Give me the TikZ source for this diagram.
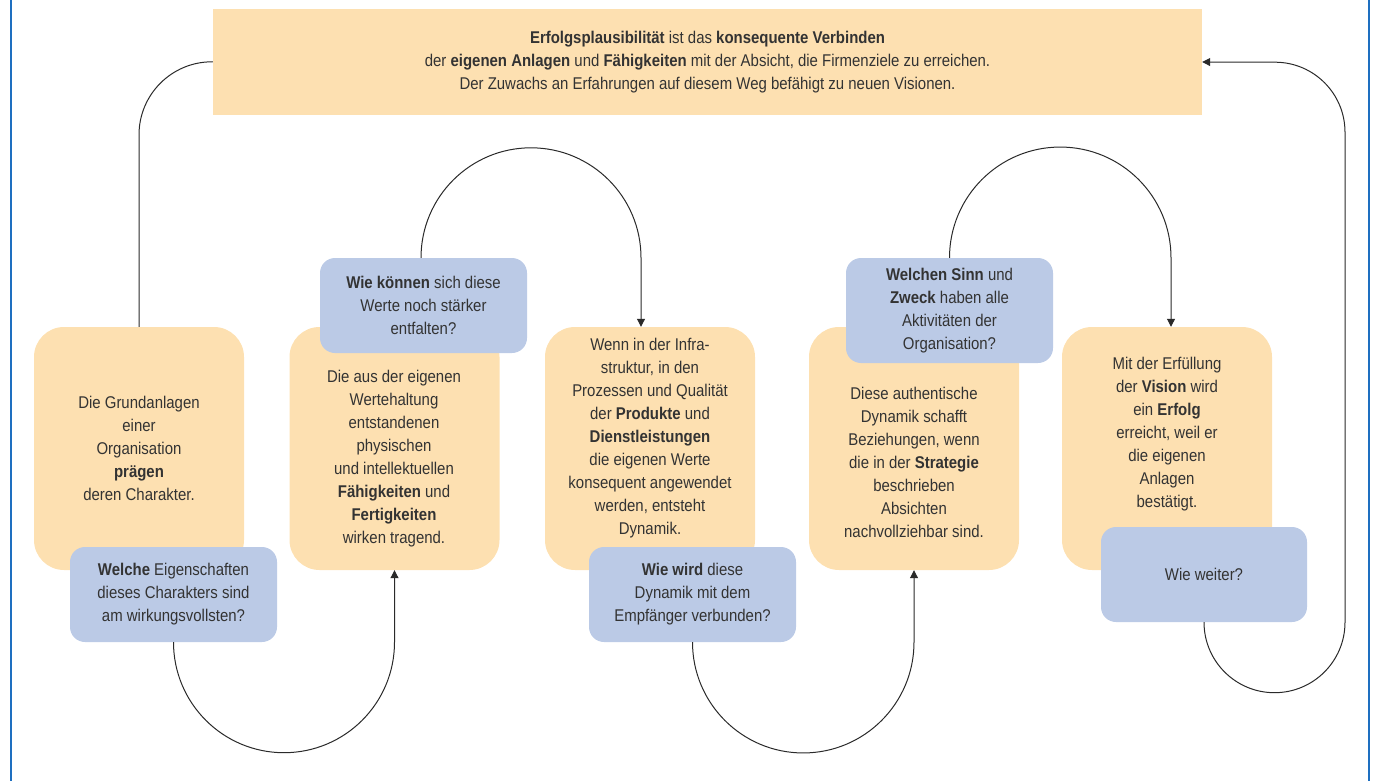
\documentclass[tikz,border=0pt]{standalone}
\usepackage{fontspec}
\setmainfont{Liberation Sans}[FakeStretch=0.88]
\usetikzlibrary{arrows.meta,calc}
\definecolor{obg}{HTML}{FDE0B1}
\definecolor{bbg}{HTML}{BBCAE6}
\definecolor{txtc}{HTML}{333333}
\definecolor{linec}{HTML}{2A2A2A}
\definecolor{framec}{HTML}{1E6FC0}
\tikzset{
  txt/.style={text=txtc, align=center, inner sep=0pt, font=\fontsize{17}{23}\selectfont},
  topbox/.style={txt, fill=obg, minimum width=989pt, minimum height=106pt},
  obox/.style={txt, fill=obg, rounded corners=30pt, minimum width=210pt, minimum height=243pt},
  qbox/.style={txt, fill=bbg, rounded corners=15pt, minimum width=207pt, minimum height=95pt},
  conn/.style={draw=linec, line width=1pt},
  arr/.style={-{Triangle[length=8pt,width=8pt]}},
  framel/.style={draw=framec, line width=2pt}
}
\begin{document}
\begin{tikzpicture}[x=1pt,y=1pt]
\useasboundingbox (0,0) rectangle (1373,-781);
\draw[framel] (10.5,0) -- (10.5,-781);
\draw[framel] (1369,0) -- (1369,-781);

\node[topbox] (top) at (707.5,-62) {\textbf{Erfolgsplausibilität} ist das \textbf{konsequente Verbinden}\\der \textbf{eigenen Anlagen} und \textbf{Fähigkeiten} mit der Absicht, die Firmenziele zu erreichen.\\Der Zuwachs an Erfahrungen auf diesem Weg befähigt zu neuen Visionen.};

\node[obox] (b1) at (139,-448.5) {Die Grundanlagen\\einer\\Organisation\\\textbf{prägen}\\deren Charakter.};
\node[obox] (b2) at (394.5,-448.5) {};
\node[obox] (b3) at (650,-448.5) {};
\node[obox] (b4) at (914,-448.5) {};
\node[obox] (b5) at (1167,-448.5) {};

\node[txt] (t2) at (394,-459) {Die aus der eigenen\\Wertehaltung\\entstandenen\\physischen\\und intellektuellen\\\textbf{Fähigkeiten} und\\\textbf{Fertigkeiten}\\wirken tragend.};
\node[txt] (t3) at (650,-438) {Wenn in der Infra-\\struktur, in den\\Prozessen und Qualität\\der \textbf{Produkte} und\\\textbf{Dienstleistungen}\\die eigenen Werte\\konsequent angewendet\\werden, entsteht\\Dynamik.};
\node[txt] (t4) at (914,-462) {Diese authentische\\Dynamik schafft\\Beziehungen, wenn\\die in der \textbf{Strategie}\\beschrieben\\Absichten\\nachvollziehbar sind.};
\node[txt] (t5) at (1167,-434) {Mit der Erfüllung\\der \textbf{Vision} wird\\ein \textbf{Erfolg}\\erreicht, weil er\\die eigenen\\Anlagen\\bestätigt.};

\node[qbox] (q1) at (173.5,-594.5) {\textbf{Welche} Eigenschaften\\dieses Charakters sind\\am wirkungsvollsten?};
\node[qbox] (q2) at (423.5,-305.5) {\textbf{Wie können} sich diese\\Werte noch stärker\\entfalten?};
\node[qbox] (q3) at (692.5,-594.5) {\textbf{Wie wird} diese\\Dynamik mit dem\\Empfänger verbunden?};
\node[qbox, minimum height=105pt] (q4) at (949.5,-310.5) {\textbf{Welchen Sinn} und\\\textbf{Zweck} haben alle\\Aktivitäten der\\Organisation?};
\node[qbox, minimum width=206pt] (q5) at (1204,-574.5) {Wie weiter?};

% connectors
\draw[conn] (b1.north) -- ++(0,192) arc[start angle=180, end angle=90, radius=73] -- (top.west);
\draw[conn, arr] (q1.south) arc[start angle=180, end angle=360, radius=110.5] -- (b2.south);
\draw[conn, arr] ($(q2.north)+(-2.5,0)$) arc[start angle=180, end angle=0, radius=110] -- ($(b3.north)+(-9,0)$);
\draw[conn, arr] (q3.south) arc[start angle=180, end angle=360, radius=110.75] -- (b4.south);
\draw[conn, arr] (q4.north) arc[start angle=180, end angle=0, radius=110.75] -- ($(b5.north)+(4,0)$);
\draw[conn, arr] (q5.south) arc[start angle=180, end angle=360, radius=70.5] -- ++(0,490) arc[start angle=0, end angle=90, radius=70] -- (top.east);
\end{tikzpicture}
\end{document}
